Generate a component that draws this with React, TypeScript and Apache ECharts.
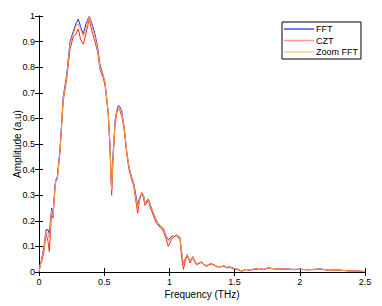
import React, { useEffect, useRef } from "react";
import * as echarts from "echarts";

const freqs = [
  0.0, 0.008, 0.02, 0.038, 0.054, 0.069, 0.079, 0.097, 0.107, 0.123, 0.13, 0.14, 0.161, 0.186, 0.212, 0.238,
  0.263, 0.284, 0.301, 0.318, 0.34, 0.36, 0.386, 0.406, 0.429, 0.449, 0.468, 0.491, 0.506, 0.521, 0.531,
  0.544, 0.557, 0.567, 0.583, 0.596, 0.608, 0.621, 0.634, 0.652, 0.673, 0.69, 0.711, 0.725, 0.736, 0.757,
  0.771, 0.788, 0.801, 0.813, 0.838, 0.855, 0.877, 0.901, 0.928, 0.953, 0.974, 0.992, 1.018, 1.043, 1.056,
  1.081, 1.093, 1.107, 1.12, 1.137, 1.158, 1.179, 1.193, 1.209, 1.227, 1.248, 1.265, 1.286, 1.311, 1.337,
  1.365, 1.388, 1.419, 1.439, 1.465, 1.49, 1.518, 1.554, 1.587, 1.618, 1.656, 1.695, 1.725, 1.756, 1.802,
  1.848, 1.902, 1.948, 2.0, 2.055, 2.1, 2.155, 2.23, 2.29, 2.36, 2.42, 2.5,
];

const fftAmp = [
  0.0, 0.02, 0.05, 0.1, 0.165, 0.165, 0.15, 0.25, 0.22, 0.34, 0.36, 0.37, 0.48, 0.685, 0.77, 0.9,
  0.94, 0.97, 0.988, 0.96, 0.93, 0.97, 1.0, 0.97, 0.93, 0.88, 0.81, 0.77, 0.74, 0.67, 0.62,
  0.5, 0.32, 0.45, 0.59, 0.63, 0.65, 0.645, 0.63, 0.57, 0.47, 0.41, 0.37, 0.35, 0.32, 0.26,
  0.29, 0.31, 0.3, 0.27, 0.286, 0.26, 0.23, 0.2, 0.18, 0.17, 0.14, 0.127, 0.14, 0.14, 0.145,
  0.135, 0.08, 0.03, 0.05, 0.068, 0.04, 0.06, 0.045, 0.03, 0.035, 0.04, 0.03, 0.025, 0.032, 0.03,
  0.022, 0.02, 0.024, 0.018, 0.02, 0.015, 0.012, 0.004, 0.01, 0.008, 0.012, 0.014, 0.01, 0.016, 0.013,
  0.012, 0.012, 0.01, 0.011, 0.009, 0.01, 0.012, 0.007, 0.008, 0.005, 0.004, 0.002,
];

const cztAmp = [
  0.01, 0.03, 0.04, 0.08, 0.15, 0.12, 0.08, 0.24, 0.21, 0.33, 0.36, 0.36, 0.47, 0.67, 0.75, 0.87,
  0.92, 0.93, 0.95, 0.91, 0.89, 0.93, 0.99, 0.94, 0.9, 0.86, 0.79, 0.76, 0.73, 0.66, 0.62,
  0.48, 0.3, 0.43, 0.57, 0.62, 0.64, 0.63, 0.61, 0.56, 0.46, 0.4, 0.36, 0.34, 0.3, 0.23,
  0.28, 0.31, 0.29, 0.26, 0.28, 0.25, 0.22, 0.19, 0.175, 0.16, 0.13, 0.1, 0.13, 0.14, 0.14,
  0.13, 0.06, 0.01, 0.04, 0.065, 0.035, 0.058, 0.04, 0.028, 0.033, 0.038, 0.028, 0.022, 0.03, 0.028,
  0.02, 0.02, 0.022, 0.016, 0.018, 0.012, 0.01, 0.003, 0.009, 0.007, 0.01, 0.012, 0.009, 0.015, 0.012,
  0.011, 0.011, 0.009, 0.01, 0.008, 0.009, 0.011, 0.006, 0.007, 0.005, 0.004, 0.002,
];

const zoomFftAmp = [
  0.0, 0.02, 0.05, 0.09, 0.16, 0.15, 0.13, 0.24, 0.22, 0.33, 0.36, 0.36, 0.47, 0.68, 0.76, 0.89,
  0.93, 0.96, 0.97, 0.95, 0.92, 0.95, 1.0, 0.96, 0.92, 0.87, 0.8, 0.77, 0.74, 0.67, 0.62,
  0.5, 0.32, 0.44, 0.58, 0.63, 0.64, 0.64, 0.62, 0.57, 0.47, 0.41, 0.37, 0.35, 0.31, 0.25,
  0.29, 0.31, 0.3, 0.27, 0.285, 0.26, 0.23, 0.2, 0.18, 0.165, 0.14, 0.12, 0.135, 0.14, 0.145,
  0.135, 0.08, 0.03, 0.05, 0.068, 0.04, 0.06, 0.045, 0.03, 0.035, 0.04, 0.03, 0.025, 0.032, 0.03,
  0.022, 0.02, 0.024, 0.018, 0.02, 0.015, 0.012, 0.004, 0.01, 0.008, 0.012, 0.014, 0.01, 0.016, 0.013,
  0.012, 0.012, 0.01, 0.011, 0.009, 0.01, 0.012, 0.007, 0.008, 0.005, 0.004, 0.002,
];

const seriesNames = ["FFT", "CZT", "Zoom FFT"];
const seriesColors = ["#2828ff", "#ff2a2a", "#f5a040"];
const legendColors = ["#4848ff", "#ff9a9a", "#f6d090"];

const FONT = "Liberation Sans, Arial, Helvetica, sans-serif";

export default function App() {
  const ref = useRef<HTMLDivElement>(null);
  useEffect(() => {
    if (!ref.current) return;
    const chart = echarts.init(ref.current, undefined, { renderer: "svg" });
    const amps = [fftAmp, cztAmp, zoomFftAmp];
    const axisCommon = {
      type: "value" as const,
      axisLine: { show: true, lineStyle: { color: "#000", width: 1 } },
      axisTick: { show: true, inside: true, length: 4, lineStyle: { color: "#000" } },
      splitLine: { show: false },
    };
    chart.setOption({
      animation: false,
      backgroundColor: "#fff",
      textStyle: { fontFamily: FONT },
      grid: {
        left: 39,
        right: 17,
        top: 16,
        bottom: 34,
        containLabel: false,
        outerBoundsMode: "none",
      },
      legend: {
        orient: "vertical",
        left: 282,
        top: 22,
        padding: [1.5, 3, 1.5, 2],
        itemGap: 0.5,
        itemWidth: 30,
        itemHeight: 1.5,
        icon: "rect",
        borderColor: "#000",
        borderWidth: 1,
        borderRadius: 0,
        backgroundColor: "#fff",
        textStyle: { fontSize: 9, color: "#000", fontFamily: FONT, lineHeight: 11, padding: [0, 0, 0, -3] },
        data: seriesNames.map((n, i) => ({ name: n, itemStyle: { color: legendColors[i] } })),
      },
      xAxis: [
        {
          ...axisCommon,
          min: 0,
          max: 2.5,
          interval: 0.5,
          position: "bottom",
          axisLabel: { fontSize: 9, color: "#000", margin: 5, fontFamily: FONT },
          name: "Frequency (THz)",
          nameLocation: "middle",
          nameGap: 17,
          nameMoveOverlap: false,
          nameTextStyle: { fontSize: 10, color: "#000", fontFamily: FONT },
        },
        {
          ...axisCommon,
          min: 0,
          max: 2.5,
          interval: 0.5,
          position: "top",
          axisLabel: { show: false },
        },
      ],
      yAxis: [
        {
          ...axisCommon,
          min: 0,
          max: 1,
          interval: 0.1,
          position: "left",
          axisLabel: { fontSize: 9, color: "#000", margin: 4, fontFamily: FONT },
          name: "Amplitude (a.u)",
          nameLocation: "middle",
          nameGap: 17,
          nameMoveOverlap: false,
          nameTextStyle: { fontSize: 10, color: "#000", fontFamily: FONT },
        },
        {
          ...axisCommon,
          min: 0,
          max: 1,
          interval: 0.1,
          position: "right",
          axisLabel: { show: false },
        },
      ],
      series: seriesNames.map((n, i) => ({
        name: n,
        type: "line",
        xAxisIndex: 0,
        yAxisIndex: 0,
        symbol: "none",
        showSymbol: false,
        data: freqs.map((f, k) => [f, amps[i][k]]),
        lineStyle: { color: seriesColors[i], width: 1 },
        itemStyle: { color: seriesColors[i] },
      })),
    });
    return () => chart.dispose();
  }, []);
  return (
    <div
      ref={ref}
      style={{ position: "absolute", left: 0, top: 0, width: 382, height: 306 }}
    />
  );
}
